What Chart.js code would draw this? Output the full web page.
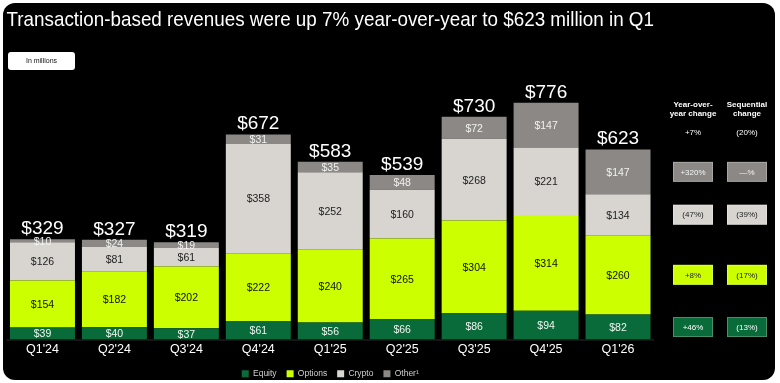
<!DOCTYPE html>
<html>
<head>
<meta charset="utf-8">
<script src="https://cdn.jsdelivr.net/npm/chart.js@4"></script>
<style>
  html, body { margin: 0; padding: 0; background: #fff; }
  #wrap { position: relative; width: 780px; height: 383px; }
  #panel { position: absolute; left: 3px; top: 3px; width: 772px; height: 377px; background: #000; border-radius: 12px; }
  canvas { position: absolute; left: 0; top: 0; }
</style>
</head>
<body>
<div id="wrap">
  <div id="panel"></div>
  <canvas id="chart" width="780" height="383"></canvas>
</div>
<script>
// Données (en millions de $)
const quarters = ["Q1'24", "Q2'24", "Q3'24", "Q4'24", "Q1'25", "Q2'25", "Q3'25", "Q4'25", "Q1'26"];
const equity  = [39, 40, 37, 61, 56, 66, 86, 94, 82];
const options = [154, 182, 202, 222, 240, 265, 304, 314, 260];
const crypto  = [126, 81, 61, 358, 252, 160, 268, 221, 134];
const other   = [10, 24, 19, 31, 35, 48, 72, 147, 147];

// Variations (ordre : Equity, Options, Crypto, Other)
const yoyChange = ['+46%', '+8%', '(47%)', '+320%'];
const seqChange = ['(13%)', '(17%)', '(39%)', '—%'];
const totalYoy = '+7%';
const totalSeq = '(20%)';

const FONT = "'Liberation Sans', Arial, Helvetica, sans-serif";
const colors = ['#0a6b3a', '#ccff00', '#d8d5d0', '#8b8885'];
const labelColors = ['#eef5ee', '#111111', '#222222', '#f2f2f2'];
const boxTextColors = ['#ffffff', '#222222', '#222222', '#f4f4f4'];

// Étiquettes, totaux et panneau de droite
const annotations = {
    id: 'annotations',
    afterDatasetsDraw(chart) {
        const ctx = chart.ctx;
        ctx.save();

        // ligne de base
        ctx.fillStyle = '#2a2a2a';
        ctx.fillRect(chart.chartArea.left, chart.chartArea.bottom, chart.chartArea.right - chart.chartArea.left, 1);

        // valeurs dans les segments
        ctx.textAlign = 'center';
        ctx.textBaseline = 'middle';
        ctx.font = '10.5px ' + FONT;
        chart.data.datasets.forEach((ds, i) => {
            const meta = chart.getDatasetMeta(i);
            meta.data.forEach((bar, j) => {
                ctx.fillStyle = labelColors[i];
                ctx.fillText('$' + ds.data[j], bar.x, (bar.y + bar.base) / 2 + 1);
            });
        });

        // totaux au-dessus des barres
        ctx.font = '19px ' + FONT;
        ctx.textBaseline = 'alphabetic';
        ctx.fillStyle = '#ffffff';
        const topMeta = chart.getDatasetMeta(3);
        topMeta.data.forEach((bar, j) => {
            const total = equity[j] + options[j] + crypto[j] + other[j];
            ctx.fillText('$' + total, bar.x, bar.y - 5);
        });

        // encadré "In millions"
        ctx.fillStyle = '#ffffff';
        ctx.beginPath();
        ctx.roundRect(8, 52, 67, 18, 3);
        ctx.fill();
        ctx.fillStyle = '#111';
        ctx.font = '7px ' + FONT;
        ctx.textBaseline = 'middle';
        ctx.fillText('In millions', 41.5, 61);

        // panneau de droite
        const colX = [693, 747];
        ctx.fillStyle = '#ffffff';
        ctx.font = 'bold 8px ' + FONT;
        ctx.fillText('Year-over-', colX[0], 105);
        ctx.fillText('year change', colX[0], 114);
        ctx.fillText('Sequential', colX[1], 105);
        ctx.fillText('change', colX[1], 114);
        ctx.font = '8px ' + FONT;
        ctx.fillText(totalYoy, colX[0], 133);
        ctx.fillText(totalSeq, colX[1], 133);

        const last = quarters.length - 1;
        chart.data.datasets.forEach((ds, i) => {
            const bar = chart.getDatasetMeta(i).data[last];
            const cy = (bar.y + bar.base) / 2;
            [yoyChange[i], seqChange[i]].forEach((txt, k) => {
                const bx = colX[k] - 20, by = cy - 10;
                ctx.fillStyle = colors[i];
                ctx.fillRect(bx, by, 40, 20);
                ctx.strokeStyle = 'rgba(255,255,255,0.25)';
                ctx.lineWidth = 1;
                ctx.strokeRect(bx + 0.5, by + 0.5, 39, 19);
                ctx.fillStyle = boxTextColors[i];
                ctx.font = '8px ' + FONT;
                ctx.fillText(txt, colX[k], cy + 0.5);
            });
        });

        ctx.restore();
    }
};

document.addEventListener('DOMContentLoaded', () => {
    const ctx = document.getElementById('chart');
    const mk = (label, data, i) => ({
        label: label,
        data: data,
        backgroundColor: colors[i],
        borderWidth: 0,
        barPercentage: 0.903,
        categoryPercentage: 1
    });

    new Chart(ctx, {
        type: 'bar',
        data: {
            labels: quarters,
            datasets: [
                mk('Equity', equity, 0),
                mk('Options', options, 1),
                mk('Crypto', crypto, 2),
                mk('Other\u00b9', other, 3)
            ]
        },
        options: {
            responsive: false,
            animation: false,
            layout: { padding: { left: 6.5, right: 126, top: 0, bottom: -5 } },
            plugins: {
                title: {
                    display: true,
                    text: 'Transaction-based revenues were up 7% year-over-year to $623 million in Q1',
                    align: 'start',
                    color: '#ffffff',
                    font: { family: FONT, size: 20.3, weight: 'normal' },
                    padding: { top: 8, bottom: 57.6 }
                },
                legend: {
                    position: 'bottom',
                    labels: {
                        color: '#d0d0d0',
                        boxWidth: 7,
                        boxHeight: 7,
                        padding: 10,
                        font: { family: FONT, size: 8.5 }
                    }
                },
                tooltip: { enabled: false }
            },
            scales: {
                x: {
                    stacked: true,
                    grid: { display: false, drawTicks: false },
                    border: { display: false },
                    ticks: { color: '#ffffff', padding: 2.5, font: { family: FONT, size: 12.5 } }
                },
                y: {
                    stacked: true,
                    display: false,
                    min: 0,
                    max: 818
                }
            }
        },
        plugins: [annotations]
    });
});
</script>
</body>
</html>
